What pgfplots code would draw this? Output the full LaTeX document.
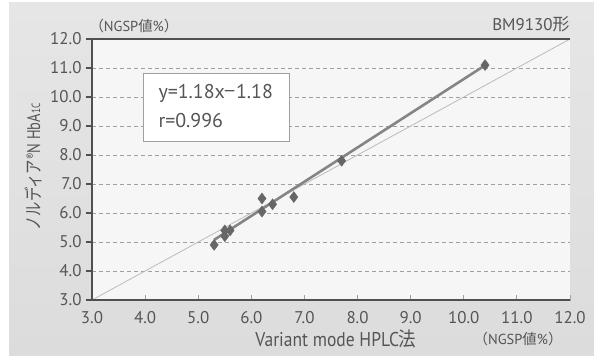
\documentclass[border=0pt]{standalone}
\usepackage{pgfplots}
\pgfplotsset{compat=1.18}
\usepackage{fontspec}
\setmainfont{PT Sans}
\newfontfamily\jp{Noto Sans CJK JP}
\definecolor{panel}{HTML}{DCDCDC}
\definecolor{panelTop}{HTML}{E6E6E6}
\definecolor{plotbg}{HTML}{F6F6F6}
\definecolor{axcol}{HTML}{505050}
\definecolor{txt}{HTML}{555555}
\definecolor{mk}{HTML}{666666}
\definecolor{reg}{HTML}{858585}
\definecolor{idl}{HTML}{BBBBBB}
\definecolor{grd}{HTML}{A0A0A0}
\begin{document}
\begin{tikzpicture}[x=1bp,y=1bp]
\fill[white] (0,0) rectangle (594,358);
\shade[top color=panelTop,bottom color=panel] (9,3) rectangle (594,355);
\begin{axis}[
  at={(92bp,58bp)}, anchor=south west,
  scale only axis, width=478bp, height=261bp,
  xmin=3, xmax=12, ymin=3, ymax=12,
  xtick={3,4,...,12}, ytick={3,4,...,12},
  axis background/.style={fill=plotbg},
  axis line style={draw=none},
  tick pos=left, tick align=outside,
  major tick length=6bp,
  ytick style={draw=axcol, line width=1.6bp},
  xtick style={draw=grd, line width=0.8bp, yshift=5bp},
  ymajorgrids, major grid style={draw=grd, line width=0.7bp, dash pattern=on 4bp off 3bp},
  /pgf/number format/assume math mode=true,
  /pgf/number format/.cd, fixed, fixed zerofill, precision=1, /pgfplots/.cd,
  ticklabel style={font=\fontsize{17}{17}\selectfont, text=txt},
  yticklabel style={xshift=-1bp},
  xticklabel style={yshift=-2bp},
  clip=false,
]
\addplot[idl, line width=0.8bp] coordinates {(3,3) (12,12)};
\addplot[reg, line width=2.6bp] coordinates {(5.3,5.074) (10.4,11.092)};
\addplot[only marks, mark=diamond*, mark size=5.5bp, mk, mark options={fill=mk, draw=mk}] coordinates {
(5.3,4.9) (5.5,5.4) (5.5,5.2) (5.6,5.4) (6.2,6.5) (6.2,6.05) (6.4,6.3) (6.8,6.55) (7.7,7.8) (10.4,11.1)
};
\draw[axcol, line width=2bp] (rel axis cs:1,1) -- (rel axis cs:0,1) -- (rel axis cs:0,0) -- (rel axis cs:1,0);
\end{axis}
% text box
\draw[fill=white, draw=grd, line width=0.8bp] (143,217) rectangle (289,285);
\node[anchor=west, text=txt, font=\fontsize{20}{20}\selectfont] at (155,265) {y=1.18x{\jp −}1.18};
\node[anchor=west, text=txt, font=\fontsize{20}{20}\selectfont] at (155,237) {r=0.996};
% labels
\node[anchor=west, text=txt, font=\fontsize{14.5}{14.5}\selectfont] at (86,332) {{\jp （}NGSP{\jp 値}\%{\jp ）}};
\node[anchor=east, text=txt, font=\fontsize{17}{17}\selectfont] at (573,334) {BM9130{\jp 形}};
\node[text=txt, font=\fontsize{20}{20}\selectfont] at (336,19) {\scalebox{0.88}[1]{Variant mode HPLC{\jp 法}}};
\node[anchor=east, text=txt, font=\fontsize{14.5}{14.5}\selectfont] at (566,19) {{\jp （}NGSP{\jp 値}\%{\jp ）}};
\node[rotate=90, text=txt, font=\fontsize{18.5}{18.5}\selectfont] at (33,191) {\scalebox{0.78}[1]{{\jp ノルディア}\raisebox{0.55ex}{\fontsize{12}{12}\selectfont ®}N HbA{\fontsize{12}{12}\selectfont 1C}}};
\end{tikzpicture}
\end{document}
